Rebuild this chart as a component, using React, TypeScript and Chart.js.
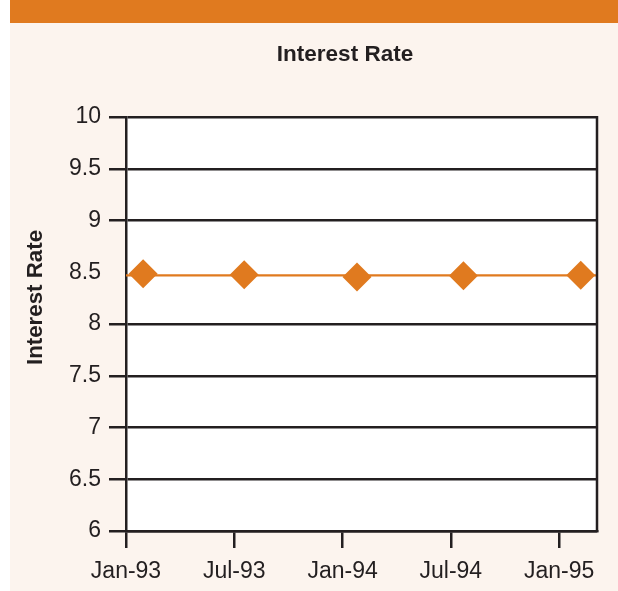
import React, { useEffect, useRef } from "react";
import { Chart, registerables } from "chart.js";

Chart.register(...registerables);

// Data (x in months since Jan-1993)
const CHART_TITLE = "Interest Rate";
const Y_TITLE = "Interest Rate";
const LINE_X = [0, 26.1];
const LINE_Y = [8.47, 8.47];
const MARKER_X = [0.95, 6.55, 12.8, 18.7, 25.2];
const MARKER_Y = [8.485, 8.475, 8.455, 8.465, 8.47];
const X_TICK_VALUES = [0, 6, 12, 18, 24];
const X_TICK_LABELS = ["Jan-93", "Jul-93", "Jan-94", "Jul-94", "Jan-95"];
const Y_MIN = 6;
const Y_MAX = 10;
const Y_STEP = 0.5;
const Y_HIDDEN_GRID = [8.5];

const ORANGE = "#E07A1F";
const BEIGE = "#FCF4EE";
const INK = "#231F20";
const FONT = "'Liberation Sans', Arial, Helvetica, sans-serif";

const decorPlugin = {
  id: "decor",
  beforeDraw(chart: any) {
    const { ctx, width, height, chartArea } = chart;
    ctx.save();
    ctx.fillStyle = "#ffffff";
    ctx.fillRect(0, 0, width, height);
    ctx.fillStyle = BEIGE;
    ctx.fillRect(10, 0, width - 10, height);
    ctx.fillStyle = ORANGE;
    ctx.fillRect(10, 0, width - 10, 23);
    ctx.fillStyle = "#ffffff";
    ctx.fillRect(chartArea.left, chartArea.top, chartArea.right - chartArea.left, chartArea.bottom - chartArea.top);
    ctx.restore();
  },
  afterDraw(chart: any) {
    const { ctx, chartArea } = chart;
    ctx.save();
    ctx.strokeStyle = INK;
    ctx.lineWidth = 2.5;
    ctx.beginPath();
    ctx.moveTo(chartArea.right, chartArea.top - 1);
    ctx.lineTo(chartArea.right, chartArea.bottom + 1);
    ctx.stroke();
    // titles
    ctx.fillStyle = INK;
    ctx.font = `bold 22.5px ${FONT}`;
    ctx.textAlign = "center";
    ctx.textBaseline = "middle";
    ctx.fillText(CHART_TITLE, 345, 55);
    ctx.translate(36, 297.5);
    ctx.rotate(-Math.PI / 2);
    ctx.font = `bold 22.3px ${FONT}`;
    ctx.fillText(Y_TITLE, 0, 0);
    ctx.restore();
  },
};

export default function App() {
  const ref = useRef<HTMLCanvasElement | null>(null);
  useEffect(() => {
    if (!ref.current) return;
    const chart = new Chart(ref.current, {
      type: "line",
      data: {
        datasets: [
          {
            label: Y_TITLE,
            data: LINE_X.map((x, i) => ({ x, y: LINE_Y[i] })),
            borderColor: ORANGE,
            backgroundColor: ORANGE,
            borderWidth: 2.2,
            pointRadius: 0,
            pointHoverRadius: 0,
            tension: 0,
            order: 2,
          },
          {
            label: Y_TITLE + " markers",
            data: MARKER_X.map((x, i) => ({ x, y: MARKER_Y[i] })),
            showLine: false,
            borderColor: ORANGE,
            backgroundColor: ORANGE,
            pointStyle: "rectRot",
            pointRadius: 14.5,
            pointHoverRadius: 14.5,
            pointBorderWidth: 0,
            pointBackgroundColor: ORANGE,
            order: 1,
          },
        ],
      },
      options: {
        responsive: false,
        animation: false,
        devicePixelRatio: 1,
        layout: { padding: { top: 117, right: 21, bottom: 0, left: 0 } },
        plugins: {
          legend: { display: false },
          title: { display: false },
          tooltip: { enabled: false },
        },
        scales: {
          x: {
            type: "linear",
            min: 0,
            max: 26.1,
            afterFit(scale: any) {
              scale.height = 60;
            },
            afterBuildTicks(scale: any) {
              scale.ticks = X_TICK_VALUES.map((v) => ({ value: v }));
            },
            grid: {
              drawOnChartArea: false,
              drawTicks: true,
              tickLength: 17,
              color: INK,
              lineWidth: 2.5,
            },
            border: { display: true, color: INK, width: 2.5 },
            ticks: {
              autoSkip: false,
              maxRotation: 0,
              padding: 10,
              color: INK,
              font: { family: FONT, size: 23 },
              callback: (v: any) => {
                const i = X_TICK_VALUES.indexOf(Number(v));
                return i >= 0 ? X_TICK_LABELS[i] : "";
              },
            },
          },
          y: {
            min: Y_MIN,
            max: Y_MAX,
            afterFit(scale: any) {
              scale.width = 126;
            },
            grid: {
              drawOnChartArea: true,
              drawTicks: true,
              tickLength: 17,
              color: (c: any) =>
                c.tick && Y_HIDDEN_GRID.includes(c.tick.value) ? "rgba(0,0,0,0)" : INK,
              lineWidth: 2.5,
            },
            border: { display: true, color: INK, width: 2.5 },
            ticks: {
              stepSize: Y_STEP,
              padding: 8,
              color: INK,
              font: { family: FONT, size: 23 },
              callback: (v: any) => String(v),
            },
          },
        },
      },
      plugins: [decorPlugin],
    });
    return () => chart.destroy();
  }, []);
  return (
    <div style={{ position: "absolute", left: 0, top: 0, width: 618, height: 591 }}>
      <canvas ref={ref} width={618} height={591} style={{ display: "block" }} />
    </div>
  );
}
